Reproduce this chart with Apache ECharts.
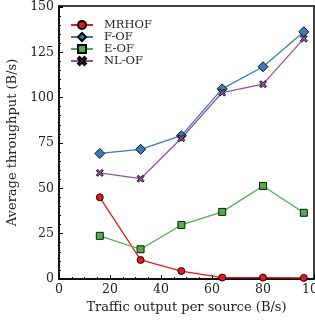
<!DOCTYPE html>
<html><head><meta charset="utf-8">
<script src="https://cdn.jsdelivr.net/npm/echarts@6/dist/echarts.min.js"></script>
<style>html,body{margin:0;padding:0;background:#fff}#c{width:315px;height:323px}</style>
</head><body><div id="c"></div>
<script>
var xValues = [16, 32, 48, 64, 80, 96];
var mrhof = [45.0, 10.5, 4.4, 0.8, 0.8, 0.6];
var fof = [69.2, 71.5, 79.0, 104.8, 117.0, 136.3];
var eof = [23.8, 16.4, 29.8, 37.0, 51.3, 36.5];
var nlof = [58.5, 55.3, 77.6, 102.8, 107.4, 132.5];
var seriesNames = ['MRHOF', 'F-OF', 'E-OF', 'NL-OF'];
var xTicks = [0, 20, 40, 60, 80, 100];
var yTicks = [0, 25, 50, 75, 100, 125, 150];

var font = 'DejaVu Serif';
var xShape = 'path://M2,0 L5,3 L8,0 L10,2 L7,5 L10,8 L8,10 L5,7 L2,10 L0,8 L3,5 L0,2 Z';
function pairs(v){ return xValues.map(function(x,i){ return [x, v[i]]; }); }
function mk(name, data, color, symbol, size){
  return {
    name: name, type: 'line', data: pairs(data), symbol: symbol, symbolSize: size,
    lineStyle: {color: color, width: 1.3},
    itemStyle: {color: color, borderColor: '#000', borderWidth: 0.9},
    emphasis: {disabled: true}, animation: false, z: 3
  };
}
var chart = echarts.init(document.getElementById('c'), null, {renderer: 'canvas'});
chart.setOption({
  animation: false,
  grid: {left: 59, right: 1, top: 6, bottom: 44, show: true, borderColor: '#000', borderWidth: 1.5,
    backgroundColor: 'transparent', containLabel: false, outerBoundsMode: 'none'},
  legend: {
    orient: 'vertical', left: 70, top: 19, padding: 0, itemWidth: 22, itemHeight: 10, itemGap: 0,
    textStyle: {fontFamily: font, fontSize: 11.5, color: '#222', lineHeight: 12, padding: [0,0,0,6]},
    data: seriesNames
  },
  xAxis: {
    type: 'value', min: 0, max: 100, interval: 20,
    name: 'Traffic output per source (B/s)', nameLocation: 'middle', nameGap: 21,
    nameTextStyle: {fontFamily: font, fontSize: 13, color: '#222'},
    axisLine: {show: true, lineStyle: {color: '#000', width: 1.5}},
    axisTick: {show: true, inside: true, length: 4, lineStyle: {color: '#000'}},
    minorTick: {show: true, splitNumber: 4, length: 2, lineStyle: {color: '#000'}},
    splitLine: {show: false},
    axisLabel: {fontFamily: font, fontSize: 12.5, color: '#222', margin: 4, showMaxLabel: true,
      formatter: function(v){ return xTicks.indexOf(v) >= 0 ? String(v) : ''; }}
  },
  yAxis: {
    type: 'value', min: 0, max: 150.5, interval: 25,
    name: 'Average throughput (B/s)', nameLocation: 'middle', nameGap: 34,
    nameTextStyle: {fontFamily: font, fontSize: 13, color: '#222'},
    axisLine: {show: true, lineStyle: {color: '#000', width: 1.5}},
    axisTick: {show: true, inside: true, length: 4, lineStyle: {color: '#000'}},
    minorTick: {show: true, splitNumber: 5, length: 2, lineStyle: {color: '#000'}},
    splitLine: {show: false},
    axisLabel: {fontFamily: font, fontSize: 12.5, color: '#222', margin: 5, showMaxLabel: true,
      formatter: function(v){ return yTicks.indexOf(v) >= 0 ? String(v) : ''; }}
  },
  series: [
    mk(seriesNames[0], mrhof, '#e41a1c', 'circle', 7),
    mk(seriesNames[1], fof, '#377eb8', 'diamond', 10),
    mk(seriesNames[2], eof, '#4daf4a', 'rect', 7),
    mk(seriesNames[3], nlof, '#984ea3', xShape, 7)
  ]
});
</script></body></html>
